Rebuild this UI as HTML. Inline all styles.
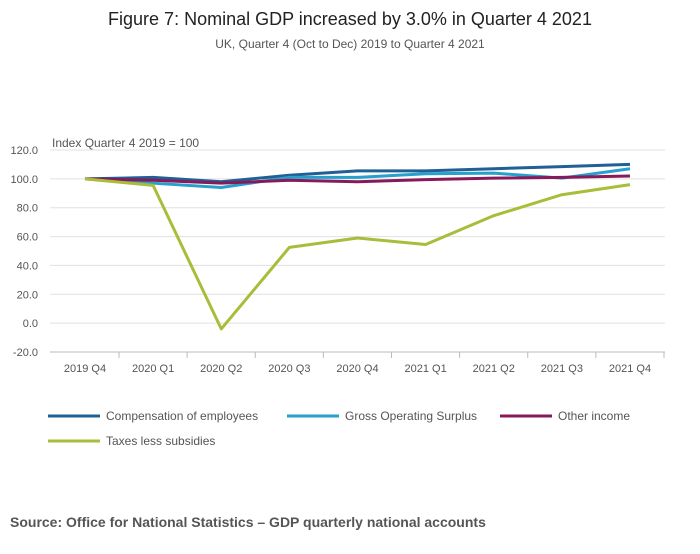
<!DOCTYPE html>
<html><head><meta charset="utf-8"><style>
body{margin:0;background:#fff;font-family:"Liberation Sans",sans-serif;}
</style></head><body>
<svg width="700" height="549" xmlns="http://www.w3.org/2000/svg">
<text x="350" y="25" text-anchor="middle" font-size="18" fill="#222">Figure 7: Nominal GDP increased by 3.0% in Quarter 4 2021</text>
<text x="350" y="48" text-anchor="middle" font-size="12" fill="#555">UK, Quarter 4 (Oct to Dec) 2019 to Quarter 4 2021</text>
<text x="52" y="147" font-size="12" fill="#555">Index Quarter 4 2019 = 100</text>
<g id="grid"></g><g id="lines"></g><g id="legend"></g>
<text x="10" y="527" font-size="14" font-weight="bold" fill="#555">Source: Office for National Statistics – GDP quarterly national accounts</text>
</svg>
<script>
const categories=["2019 Q4","2020 Q1","2020 Q2","2020 Q3","2020 Q4","2021 Q1","2021 Q2","2021 Q3","2021 Q4"];
const yTicks=[-20,0,20,40,60,80,100,120];
const compensation=[100,101,98,102.5,105.5,105.5,107,108.5,110];
const gos=[100,97,94,101,101,103.5,104,100.5,107];
const other=[100,99,97,99,98,99.5,100.5,101,102];
const taxes=[100,95.5,-4,52.5,59,54.5,74.5,89,96];
const seriesNames=["Compensation of employees","Gross Operating Surplus","Other income","Taxes less subsidies"];
const colors=["#206095","#27a0cc","#871a5b","#a8bd3a"];
const NS="http://www.w3.org/2000/svg";
const L=50,R=665,T=150,B=352;
function y(v){return B-(v+20)/140*(B-T);}
function x(i){return 85+i*(630-85)/(categories.length-1);}
function mk(t,a,p){const e=document.createElementNS(NS,t);for(const k in a)e.setAttribute(k,a[k]);p.appendChild(e);return e;}
const g=document.getElementById('grid');
yTicks.forEach(v=>{
 const l=mk('line',{x1:L,x2:R,y1:y(v),y2:y(v),stroke:v===-20?'#bbb':'#e0e0e0','stroke-width':1},g);
 
 
 const t=mk('text',{x:38,y:y(v)+4,'text-anchor':'end','font-size':11,fill:'#555'},g);
 t.textContent=v.toFixed(1);
 
 
});
categories.forEach((c,i)=>{
 const tk=mk('line',{x1:x(i)+34,x2:x(i)+34,y1:B,y2:B+6,stroke:'#bbb'},g);
 
 
 const t=mk('text',{x:x(i),y:372,'text-anchor':'middle','font-size':11,fill:'#555'},g);
 t.textContent=c;
 
 
});
const lg=document.getElementById('lines');
[compensation,gos,other,taxes].forEach((s,k)=>{
 const p=mk('polyline',{points:s.map((v,i)=>x(i)+','+y(v)).join(' '),fill:'none',stroke:colors[k],'stroke-width':3,'stroke-linejoin':'round'},lg);
 
 
});
const leg=document.getElementById('legend');
const pos=[[48,416],[287,416],[500,416],[48,441]];
seriesNames.forEach((n,k)=>{
 const [lx,ly]=pos[k];
 const gg=mk('g',{},leg);
 
 
 mk('line',{x1:lx,x2:lx+52,y1:ly,y2:ly,stroke:colors[k],'stroke-width':3},gg);
 const t=mk('text',{x:lx+58,y:ly+4,'font-size':12,fill:'#555'},gg);
 t.textContent=n;
});
</script>
</body></html>
